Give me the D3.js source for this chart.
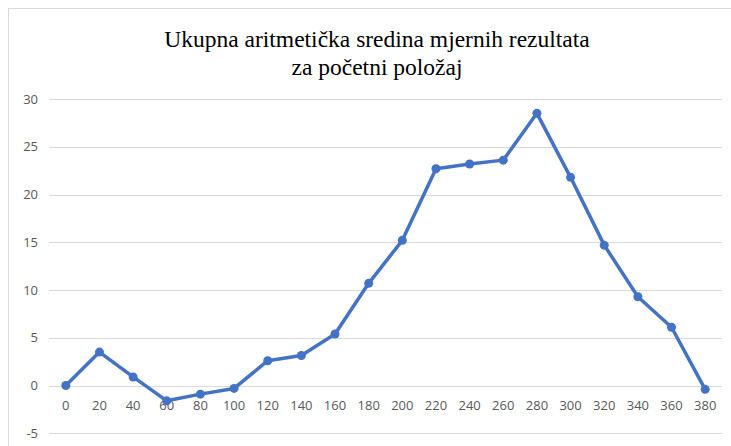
<!DOCTYPE html>
<html>
<head>
<meta charset="utf-8">
<script src="https://cdn.jsdelivr.net/npm/d3@7"></script>
<style>
  body { margin: 0; background: #fff; }
  svg { display: block; }
</style>
</head>
<body>
<svg></svg>
<script>
var width = 731, height = 446;

var categories = ["0", "20", "40", "60", "80", "100", "120", "140", "160", "180",
                  "200", "220", "240", "260", "280", "300", "320", "340", "360", "380"];
var values = [0, 3.5, 0.9, -1.6, -0.9, -0.3, 2.6, 3.15, 5.4, 10.7,
              15.2, 22.7, 23.2, 23.6, 28.5, 21.8, 14.7, 9.3, 6.1, -0.4];
var yTicks = [-5, 0, 5, 10, 15, 20, 25, 30];
var titleLines = ["Ukupna aritmetička sredina mjernih rezultata", "za početni položaj"];

var svg = d3.select("svg")
    .attr("width", width)
    .attr("height", height);

// chart border (right/bottom edges are cut off in the picture)
svg.append("rect")
    .attr("x", 8.5).attr("y", 8.5)
    .attr("width", 800).attr("height", 500)
    .attr("fill", "none")
    .attr("stroke", "#d9d9d9");

var x = d3.scaleBand()
    .domain(categories)
    .range([49, 722]);

var y = d3.scaleLinear()
    .domain([-5, 30])
    .range([433.3, 99]);

// gridlines
svg.append("g")
    .selectAll("line")
    .data(yTicks)
    .enter().append("line")
    .attr("x1", 49).attr("x2", 722)
    .attr("y1", function (d) { return Math.round(y(d)) + 0.5; })
    .attr("y2", function (d) { return Math.round(y(d)) + 0.5; })
    .attr("stroke", "#d9d9d9")
    .attr("stroke-width", 1);

// y labels
svg.append("g")
    .selectAll("text")
    .data(yTicks)
    .enter().append("text")
    .attr("x", 38)
    .attr("y", function (d) { return y(d); })
    .attr("dy", "0.35em")
    .attr("text-anchor", "end")
    .attr("fill", "#595959")
    .style("font-family", "'Open Sans'")
    .style("font-size", "13px")
    .text(function (d) { return d; });

// x labels (category axis sits on zero)
svg.append("g")
    .selectAll("text")
    .data(categories)
    .enter().append("text")
    .attr("x", function (d) { return x(d) + x.bandwidth() / 2; })
    .attr("y", y(0) + 20)
    .attr("dy", "0.35em")
    .attr("text-anchor", "middle")
    .attr("fill", "#595959")
    .style("font-family", "'Open Sans'")
    .style("font-size", "13px")
    .text(function (d) { return d; });

var points = categories.map(function (c, i) { return { c: c, v: values[i] }; });

var line = d3.line()
    .x(function (d) { return x(d.c) + x.bandwidth() / 2; })
    .y(function (d) { return y(d.v); });

svg.append("path")
    .datum(points)
    .attr("d", line)
    .attr("fill", "none")
    .attr("stroke", "#4472c4")
    .attr("stroke-width", 3.5)
    .attr("stroke-linejoin", "round");

svg.append("g")
    .selectAll("circle")
    .data(points)
    .enter().append("circle")
    .attr("cx", function (d) { return x(d.c) + x.bandwidth() / 2; })
    .attr("cy", function (d) { return y(d.v); })
    .attr("r", 4.5)
    .attr("fill", "#4472c4");

// title
svg.append("g")
    .selectAll("text")
    .data(titleLines)
    .enter().append("text")
    .attr("x", 377)
    .attr("y", function (d, i) { return 47 + i * 28; })
    .attr("text-anchor", "middle")
    .attr("fill", "#000")
    .style("font-family", "'Times New Roman'")
    .style("font-size", "23.5px")
    .text(function (d) { return d; });
</script>
</body>
</html>
